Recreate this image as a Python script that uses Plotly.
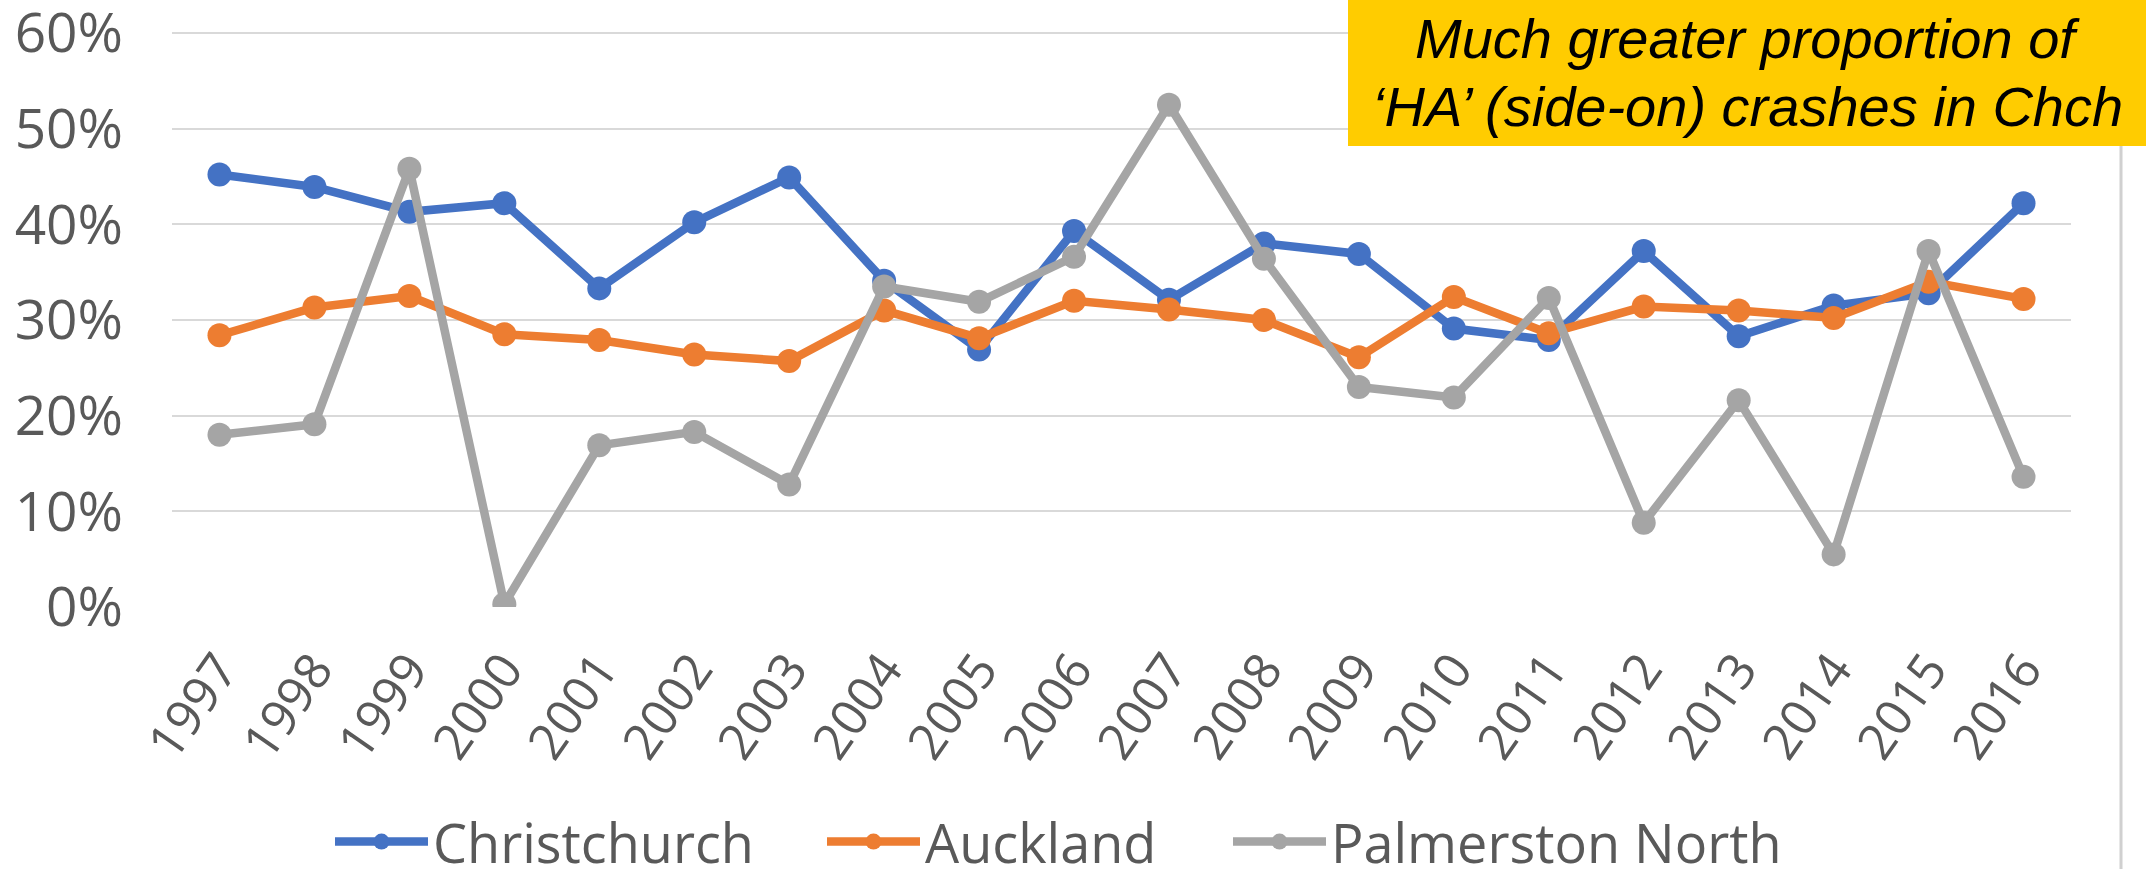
import plotly.graph_objects as go

years = [str(y) for y in range(1997, 2017)]
christchurch = [45.2, 43.9, 41.3, 42.2, 33.3, 40.2, 44.9, 34.1, 26.9, 39.3,
                32.1, 38.0, 36.9, 29.1, 27.9, 37.2, 28.3, 31.5, 32.8, 42.2]
auckland = [28.4, 31.3, 32.5, 28.5, 27.9, 26.4, 25.7, 31.0, 28.1, 32.0,
            31.1, 30.0, 26.1, 32.4, 28.6, 31.4, 31.0, 30.2, 34.0, 32.2]
palmerston_north = [18.0, 19.1, 45.8, 0.3, 16.9, 18.3, 12.8, 33.5, 31.9, 36.6,
                    52.5, 36.4, 23.0, 21.9, 32.3, 8.8, 21.6, 5.5, 37.2, 13.6]
series_names = ["Christchurch", "Auckland", "Palmerston North"]
series_colors = ["#4472C4", "#ED7D31", "#A5A5A5"]
y_ticks = [0, 10, 20, 30, 40, 50, 60]
note_lines = ["Much greater proportion of", "‘HA’ (side-on) crashes in Chch"]

W, H = 2152, 869
L, R, T, B = 172, 2071, 31, 607  # plot area in px
YMAX = 60.0
ITEMW = 93
legend_left_px = [330, 822, 1228]  # left edge of each legend entry


def px_x(x):
    return (x - L) / (R - L)


def px_y(y):
    return (B - y) / (B - T)


fig = go.Figure()
legend_ids = ["legend", "legend2", "legend3"]
for name, vals, col, lg in zip(series_names, [christchurch, auckland, palmerston_north],
                               series_colors, legend_ids):
    fig.add_trace(go.Scatter(
        x=years, y=vals, name=name, mode="lines+markers",
        line=dict(color=col, width=8.5),
        marker=dict(color=col, size=24),
        legend=lg,
    ))

tick_font = dict(family="Open Sans", size=55, color="#595959")
legend_common = dict(
    orientation="h", xanchor="left", y=px_y(842), yanchor="middle",
    font=dict(family="Open Sans", size=54, color="#595959"),
    bgcolor="rgba(0,0,0,0)", itemwidth=ITEMW,
)

fig.update_layout(
    width=W, height=H,
    margin=dict(l=L, r=W - R, t=T, b=H - B, autoexpand=False),
    plot_bgcolor="white", paper_bgcolor="white",
    showlegend=True,
    legend=dict(x=px_x(legend_left_px[0]), **legend_common),
    legend2=dict(x=px_x(legend_left_px[1]), **legend_common),
    legend3=dict(x=px_x(legend_left_px[2]), **legend_common),
    xaxis=dict(
        type="category", range=[-0.5, 19.5], showgrid=False, zeroline=False,
        showline=False, ticks="", tickangle=-55,
        tickfont=dict(family="Open Sans", size=50, color="#595959"),
        ticklabelstandoff=22,
    ),
    yaxis=dict(
        range=[0, YMAX + 0.2], tickvals=y_ticks, ticktext=[f"{v}%" for v in y_ticks],
        showgrid=True, gridcolor="#D9D9D9", gridwidth=2, zeroline=False,
        showline=False, ticks="", tickfont=tick_font, ticklabelstandoff=48,
        ticklabeloverflow="allow",
    ),
)

# chart border (right edge visible in reference)
fig.add_shape(type="line", xref="paper", yref="paper",
              x0=px_x(2121), x1=px_x(2121), y0=px_y(H), y1=px_y(0),
              line=dict(color="#D0D0D0", width=3), layer="above")

# yellow callout box
fig.add_shape(type="rect", xref="paper", yref="paper",
              x0=px_x(1348), x1=px_x(2146), y0=px_y(146), y1=px_y(-2),
              fillcolor="#FFCC00", line=dict(width=0), layer="above")

for txt, yc in zip(note_lines, [39, 106]):
    fig.add_annotation(
        xref="paper", yref="paper", x=px_x(1747), y=px_y(yc),
        xanchor="center", yanchor="middle", showarrow=False,
        text=f"<i>{txt}</i>",
        font=dict(family="Liberation Sans", size=56, color="black"),
    )

fig.write_html(
    "out.html",
    config={"displayModeBar": False},
    post_script="document.body.style.margin='0';document.body.style.overflow='hidden';",
)
